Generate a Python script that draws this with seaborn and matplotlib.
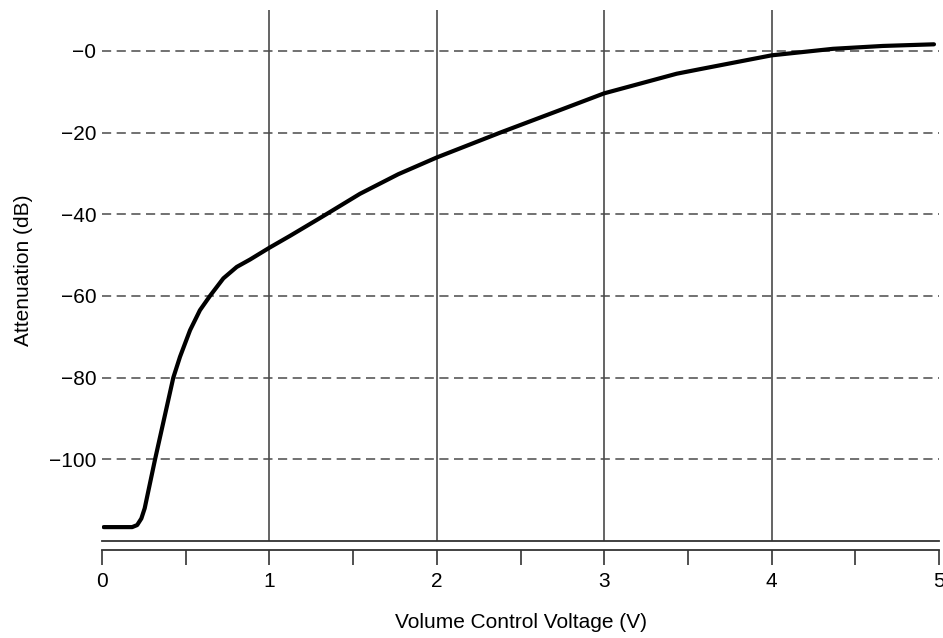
import matplotlib
matplotlib.use("Agg")
import matplotlib.pyplot as plt
import pandas as pd
import seaborn as sns


# Attenuation curve
VOLTAGE = [0.01, 0.18, 0.21, 0.235, 0.255, 0.317, 0.426, 0.466, 0.526, 0.585,
           0.645, 0.725, 0.805, 0.884, 1.0, 1.123, 1.283, 1.34, 1.541, 1.77, 2.0,
           2.38, 2.736, 3.0, 3.433, 3.57, 4.0, 4.367, 4.665, 4.97]
ATTEN_DB = [-116.6, -116.6, -116.1, -114.5, -112.0, -100.0, -80.0, -74.9, -68.4, -63.5,
            -60.0, -55.7, -52.9, -51.1, -48.2, -45.3, -41.4, -40.0, -35.0, -30.2, -26.1,
            -20.0, -14.5, -10.4, -5.6, -4.5, -1.1, 0.5, 1.2, 1.6]

Y_TICKS = [0, -20, -40, -60, -80, -100]
Y_TICK_LABELS = ["\u22120", "\u221220", "\u221240", "\u221260", "\u221280", "\u2212100"]
X_GRID = [1, 2, 3, 4]
X_TICKS = [0, 1, 2, 3, 4, 5]
X_MINOR = [0.5, 1.5, 2.5, 3.5, 4.5]

GRID_COLOR = "#4a4a4a"
FONT_SIZE = 15


def main() -> None:
    sns.set_style("white")
    plt.rcParams["font.family"] = ["Liberation Sans", "DejaVu Sans"]
    plt.rcParams["text.color"] = "black"
    plt.rcParams["axes.labelcolor"] = "black"

    df = pd.DataFrame({"voltage": VOLTAGE, "atten": ATTEN_DB})

    fig = plt.figure(figsize=(9.43, 6.38), dpi=100)
    ax = fig.add_axes([102 / 943, 1 - 541 / 638, 837 / 943, 531 / 638])

    sns.lineplot(data=df, x="voltage", y="atten", color="black", linewidth=3.0,
                 ax=ax, zorder=5)
    ax.lines[0].set_solid_joinstyle("round")

    ax.set_xlim(0, 5)
    ax.set_ylim(-120, 10)

    for side in ["top", "left", "right"]:
        ax.spines[side].set_visible(False)
    ax.spines["bottom"].set_color("#333333")
    ax.spines["bottom"].set_linewidth(1.3)

    # vertical solid grid at interior voltages, dashed horizontal grid
    ax.set_xticks(X_GRID)
    ax.tick_params(axis="x", length=0, labelbottom=False)
    ax.grid(axis="x", color=GRID_COLOR, linewidth=1.2, linestyle="-")

    ax.set_yticks(Y_TICKS)
    ax.set_yticklabels(Y_TICK_LABELS)
    ax.tick_params(axis="y", length=0, pad=4, labelsize=FONT_SIZE, labelcolor="black")
    ax.grid(axis="y", color=GRID_COLOR, linewidth=1.1, linestyle=(0, (6, 3.6)))

    ax.set_xlabel("")
    ax.set_ylabel("Attenuation (dB)", fontsize=FONT_SIZE)
    ax.yaxis.set_label_coords(-0.0824, 0.51)

    # detached voltage scale below the plot
    sec = ax.secondary_xaxis(-9 / 531)
    sec.set_xticks(X_TICKS)
    sec.set_xticks(X_MINOR, minor=True)
    sec.tick_params(axis="x", which="both", direction="out", length=11, width=1.1,
                    color="#222222", pad=4.5, labelsize=FONT_SIZE, labelcolor="black")
    sec.spines["bottom"].set_color("#333333")
    sec.spines["bottom"].set_linewidth(1.3)
    sec.set_xlabel("Volume Control Voltage (V)", fontsize=FONT_SIZE, labelpad=16)

    fig.savefig("out.png", dpi=100)
    plt.close(fig)


if __name__ == "__main__":
    main()
